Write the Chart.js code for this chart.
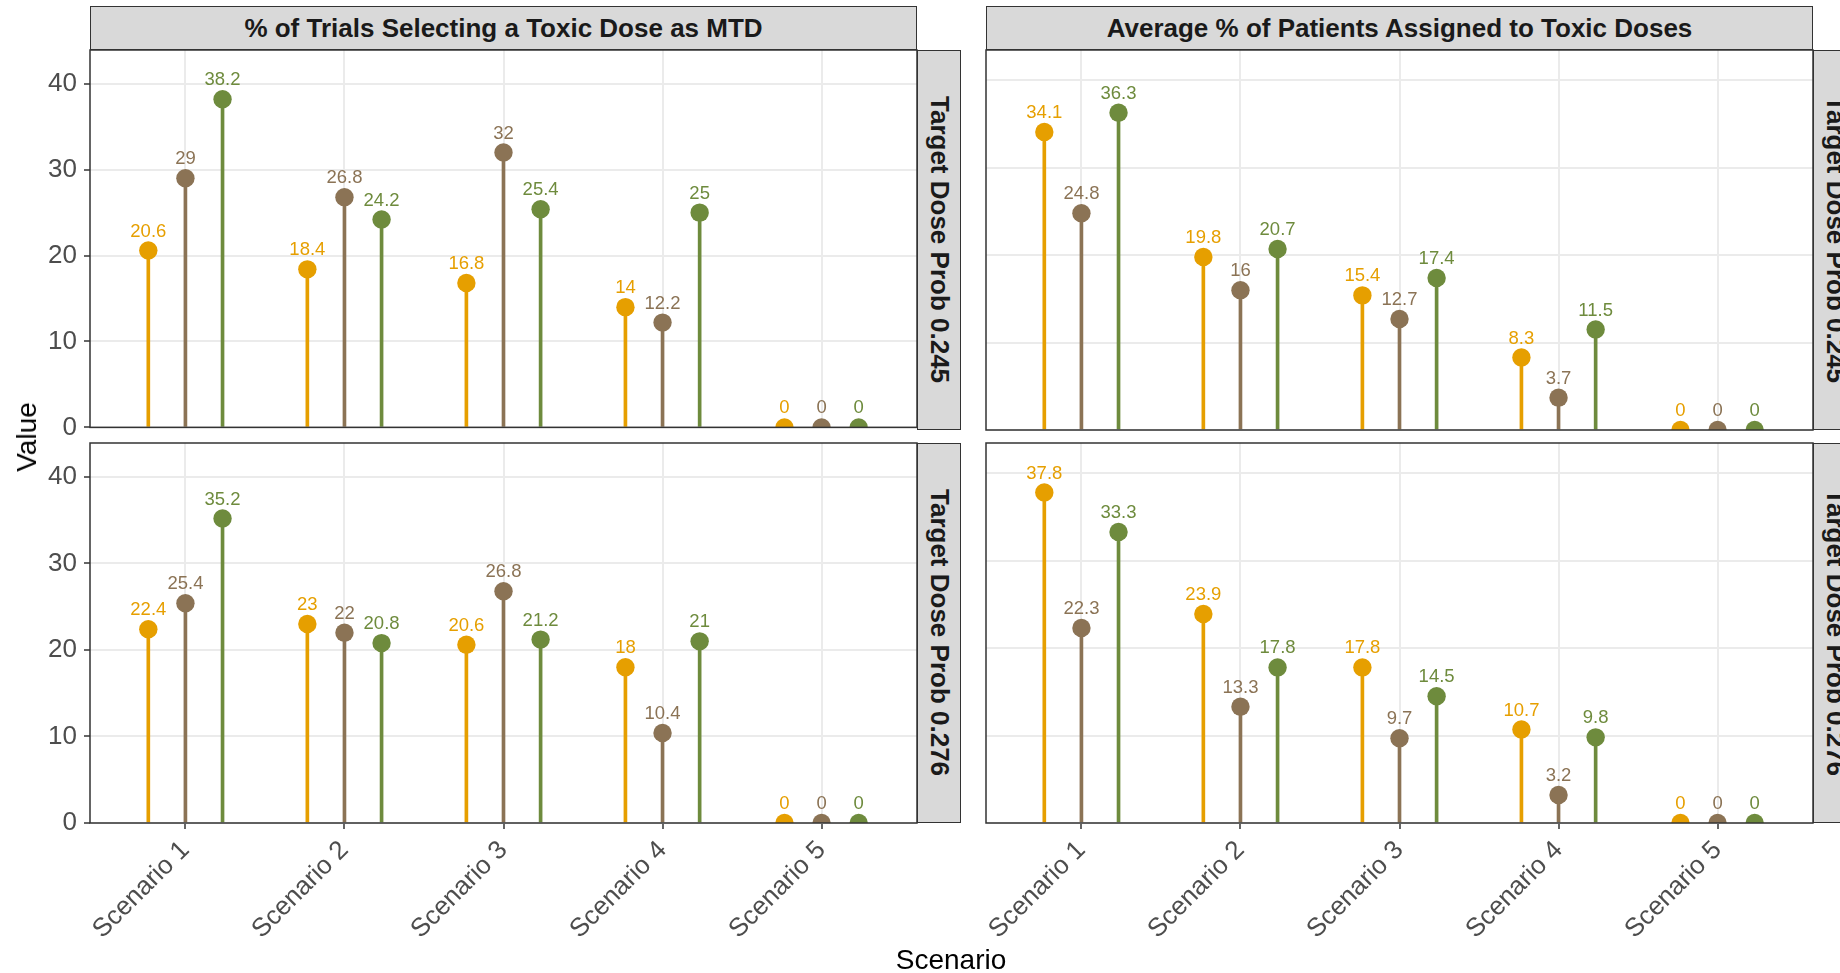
<!DOCTYPE html>
<html>
<head>
<meta charset="utf-8">
<script src="https://cdn.jsdelivr.net/npm/chart.js@4.4.1/dist/chart.umd.min.js"></script>
<style>
  html, body { margin:0; padding:0; background:#fff; }
  body { width:1840px; height:973px; overflow:hidden; position:relative; font-family:"Liberation Sans", Arial, sans-serif; }
  canvas { position:absolute; }
  .strip { position:absolute; background:#D9D9D9; border:1.5px solid #333333; box-sizing:border-box;
           display:flex; align-items:center; justify-content:center; font-weight:bold; font-size:26px; color:#1A1A1A; white-space:nowrap; }
  .vstrip { writing-mode: vertical-rl; }
  .title { position:absolute; color:#000; font-size:28px; white-space:nowrap; transform-origin:center center; }
</style>
</head>
<body>
<canvas id="tl" width="927" height="440" style="left:0px; top:10px;"></canvas>
<canvas id="bl" width="927" height="570" style="left:0px; top:403px;"></canvas>
<canvas id="tr" width="847" height="440" style="left:976px; top:10px;"></canvas>
<canvas id="br" width="847" height="570" style="left:976px; top:403px;"></canvas>

<div class="strip" style="left:90px; top:6px; width:827px; height:44px;">% of Trials Selecting a Toxic Dose as MTD</div>
<div class="strip" style="left:986px; top:6px; width:827px; height:44px;">Average % of Patients Assigned to Toxic Doses</div>
<div class="strip vstrip" style="left:917px; top:50px; width:44px; height:380px;">Target Dose Prob 0.245</div>
<div class="strip vstrip" style="left:917px; top:443px; width:44px; height:380px;">Target Dose Prob 0.276</div>
<div class="strip vstrip" style="left:1813px; top:50px; width:44px; height:380px;">Target Dose Prob 0.245</div>
<div class="strip vstrip" style="left:1813px; top:443px; width:44px; height:380px;">Target Dose Prob 0.276</div>

<div class="title" id="ytitle" style="left:27px; top:437px; transform:translate(-50%,-50%) rotate(-90deg);">Value</div>
<div class="title" id="xtitle" style="left:951px; top:960px; transform:translate(-50%,-50%);">Scenario</div>

<script>
// ---------- data ----------
const scenarioLabels = ['Scenario 1', 'Scenario 2', 'Scenario 3', 'Scenario 4', 'Scenario 5'];
const yTickValues = [0, 10, 20, 30, 40];
const seriesColors = ['#E69F00', '#8B7355', '#6E8B3D'];

// % of Trials Selecting a Toxic Dose as MTD — Target Dose Prob 0.245
const mtd245Orange = [20.6, 18.4, 16.8, 14, 0];
const mtd245Brown  = [29, 26.8, 32, 12.2, 0];
const mtd245Green  = [38.2, 24.2, 25.4, 25, 0];
// % of Trials Selecting a Toxic Dose as MTD — Target Dose Prob 0.276
const mtd276Orange = [22.4, 23, 20.6, 18, 0];
const mtd276Brown  = [25.4, 22, 26.8, 10.4, 0];
const mtd276Green  = [35.2, 20.8, 21.2, 21, 0];
// Average % of Patients Assigned to Toxic Doses — Target Dose Prob 0.245
const pat245Orange = [34.1, 19.8, 15.4, 8.3, 0];
const pat245Brown  = [24.8, 16, 12.7, 3.7, 0];
const pat245Green  = [36.3, 20.7, 17.4, 11.5, 0];
// Average % of Patients Assigned to Toxic Doses — Target Dose Prob 0.276
const pat276Orange = [37.8, 23.9, 17.8, 10.7, 0];
const pat276Brown  = [22.3, 13.3, 9.7, 3.2, 0];
const pat276Green  = [33.3, 17.8, 14.5, 9.8, 0];

// ---------- styling / layout ----------
Chart.defaults.font.family = '"Liberation Sans", Arial, sans-serif';
const dodgeOffsets = [-0.7 / 3, 0, 0.7 / 3];
const expandTop = 1.15;

const panelBorder = {
  id: 'panelBorder',
  afterDraw(chart) {
    const {ctx, chartArea: a} = chart;
    ctx.save();
    ctx.strokeStyle = '#333333';
    ctx.lineWidth = 1.5;
    ctx.strokeRect(a.left, a.top, a.right - a.left, a.bottom - a.top);
    ctx.restore();
  }
};

const valueLabels = {
  id: 'valueLabels',
  afterDatasetsDraw(chart) {
    const ctx = chart.ctx;
    chart.data.datasets.forEach((ds, i) => {
      if (ds.type !== 'scatter') return;
      const meta = chart.getDatasetMeta(i);
      meta.data.forEach((el, j) => {
        ctx.save();
        ctx.fillStyle = ds.backgroundColor;
        ctx.font = '18.5px "Liberation Sans", Arial, sans-serif';
        ctx.textAlign = 'center';
        ctx.textBaseline = 'middle';
        ctx.fillText(String(ds.data[j].y), el.x, el.y - 19);
        ctx.restore();
      });
    });
  }
};

function makePanel(id, seriesValues, yMax, o) {
  const datasets = [];
  seriesValues.forEach((vals, i) => {
    const pts = vals.map((v, j) => ({x: j + 1 + dodgeOffsets[i], y: v}));
    datasets.push({type: 'bar', data: pts, backgroundColor: seriesColors[i], borderWidth: 0,
                   barThickness: 3, grouped: false, order: 2});
    datasets.push({type: 'scatter', data: pts, backgroundColor: seriesColors[i], borderColor: seriesColors[i],
                   pointRadius: 9.2, pointBorderWidth: 0, order: 1, clip: 0});
  });
  new Chart(document.getElementById(id), {
    type: 'bar',
    data: {datasets},
    options: {
      responsive: false, animation: false, events: [],
      layout: {padding: o.padding},
      plugins: {legend: {display: false}, tooltip: {enabled: false}},
      scales: {
        x: {
          type: 'linear', min: 0.4, max: 5.6, offset: false,
          afterBuildTicks: s => { s.ticks = scenarioLabels.map((_, i) => ({value: i + 1})); },
          afterFit: s => { s.height = o.xHeight; },
          grid: {color: '#EBEBEB', lineWidth: 2, offset: false, drawTicks: o.showX,
                 tickColor: '#333333', tickLength: 6, tickWidth: 1.5},
          border: {display: false},
          ticks: {display: o.showX, autoSkip: false, minRotation: 45, maxRotation: 45, padding: 6,
                  color: '#4D4D4D', font: {size: 26},
                  callback: v => scenarioLabels[Math.round(v) - 1]}
        },
        y: {
          type: 'linear', min: 0, max: yMax,
          afterBuildTicks: s => { s.ticks = yTickValues.map(v => ({value: v})); },
          afterFit: s => { s.width = o.yWidth; },
          grid: {color: '#EBEBEB', lineWidth: 2, drawTicks: o.showY,
                 tickColor: '#333333', tickLength: 6, tickWidth: 1.5},
          border: {display: false},
          ticks: {display: o.showY, padding: 7, color: '#4D4D4D', font: {size: 26}}
        }
      }
    },
    plugins: [panelBorder, valueLabels]
  });
}

const leftMax = Math.max(...mtd245Orange, ...mtd245Brown, ...mtd245Green,
                         ...mtd276Orange, ...mtd276Brown, ...mtd276Green) * expandTop;
const rightMax = Math.max(...pat245Orange, ...pat245Brown, ...pat245Green,
                          ...pat276Orange, ...pat276Brown, ...pat276Green) * expandTop;

makePanel('tl', [mtd245Orange, mtd245Brown, mtd245Green], leftMax,
  {padding: {top: 40, right: 10, bottom: 20, left: 0}, xHeight: 0, yWidth: 90, showX: false, showY: true});
makePanel('bl', [mtd276Orange, mtd276Brown, mtd276Green], leftMax,
  {padding: {top: 40, right: 10, bottom: 0, left: 0}, xHeight: 150, yWidth: 90, showX: true, showY: true});
makePanel('tr', [pat245Orange, pat245Brown, pat245Green], rightMax,
  {padding: {top: 40, right: 10, bottom: 20, left: 10}, xHeight: 0, yWidth: 0, showX: false, showY: false});
makePanel('br', [pat276Orange, pat276Brown, pat276Green], rightMax,
  {padding: {top: 40, right: 10, bottom: 0, left: 10}, xHeight: 150, yWidth: 0, showX: true, showY: false});
</script>
</body>
</html>
